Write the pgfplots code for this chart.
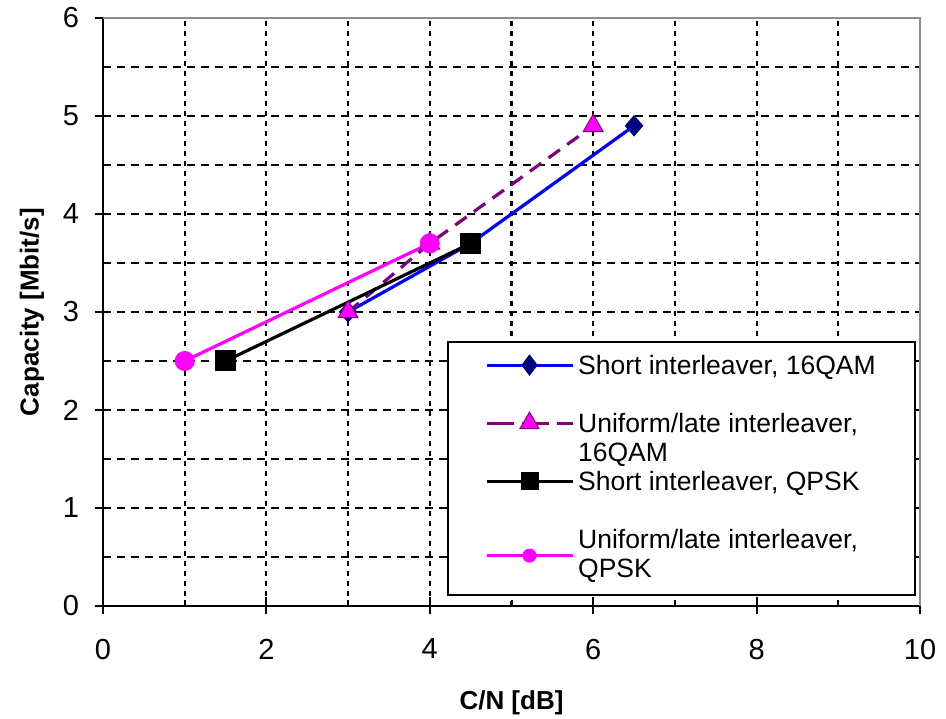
\documentclass[border=0pt]{standalone}
\usepackage{fontspec}
\setmainfont{Liberation Sans}
\usepackage{pgfplots}
\pgfplotsset{compat=1.18}
\definecolor{navyc}{HTML}{000080}
\definecolor{purplec}{HTML}{800080}
\definecolor{magc}{HTML}{FF00FF}
\definecolor{bluec}{HTML}{0000FF}
\definecolor{framegray}{HTML}{8C8C8C}
\begin{document}
\begin{tikzpicture}
\useasboundingbox (-103pt,-113pt) rectangle (843pt,606pt);
\begin{axis}[
  at={(0pt,0pt)}, anchor=south west,
  scale only axis, width=817pt, height=588pt,
  xmin=0, xmax=10, ymin=0, ymax=6,
  xtick={0,2,...,10}, ytick={0,1,...,6},
  minor xtick={1,3,5,7,9}, minor ytick={0.5,1.5,...,5.5},
  grid=both,
  major x grid style={black, line width=2.2pt, dash pattern=on 5pt off 5pt},
  minor x grid style={black, line width=2.2pt, dash pattern=on 5pt off 5pt},
  major y grid style={black, line width=2.2pt, dash pattern=on 8pt off 6pt},
  minor y grid style={black, line width=2.2pt, dash pattern=on 8pt off 6pt},
  axis x line*=bottom, axis y line*=left,
  axis line style={black, line width=2.4pt},
  tick align=center, major tick length=17pt, minor tick length=6pt,
  tick style={black, line width=2pt},
  minor x tick style={yshift=3pt},
  minor y tick style={xshift=3pt},
  clip=false,
  ticklabel style={font=\fontsize{29}{34}\selectfont},
  xticklabel style={yshift=-21pt},
  yticklabel style={xshift=-12pt},
  /pgf/number format/assume math mode=true,
  xlabel={C/N [dB]}, ylabel={Capacity [Mbit/s]},
  every axis x label/.style={at={(axis description cs:0.5,-0.165)}, anchor=center, font=\bfseries\fontsize{26}{30}\selectfont},
  every axis y label/.style={at={(axis description cs:-0.0869,0.5)}, rotate=90, anchor=center, font=\bfseries\fontsize{26}{30}\selectfont},
  legend style={at={(axis description cs:0.4211,0.0170)}, anchor=south west,
    draw=black, line width=1.8pt, inner xsep=37pt, inner ysep=8pt,
    row sep=28pt, column sep=2pt,
    font=\fontsize{26.5}{29}\selectfont,
    nodes={inner sep=2pt, text height=22pt, text depth=4pt},
    cells={anchor=west}},
  legend cell align=left,
  legend image code/.code={\draw[mark repeat=2,mark phase=2,#1] plot coordinates {(0pt,0pt)(43pt,0pt)(86pt,0pt)};},
]
\addplot[bluec, line width=3.2pt, mark=diamond*, mark size=10pt,
  mark options={solid, draw=navyc, fill=navyc, xscale=1.15, line width=1pt}, forget plot]
  coordinates {(3,3.0) (4.5,3.7) (6.5,4.9)};
\addplot[purplec, line width=3.2pt, dash pattern=on 14pt off 9pt, mark=triangle*, mark size=11.5pt,
  mark options={solid, draw=purplec, fill=magc, line width=1pt}, forget plot]
  coordinates {(3,3.0) (4,3.7) (6,4.9)};
\addplot[black, line width=3.2pt, mark=square*, mark size=10pt,
  mark options={solid, draw=black, fill=black, line width=1pt}, forget plot]
  coordinates {(1.5,2.5) (4.5,3.7)};
\addplot[magc, line width=3.2pt, mark=*, mark size=9.5pt,
  mark options={solid, draw=magc, fill=magc, line width=1pt}, forget plot]
  coordinates {(1,2.5) (4,3.7)};
\draw[framegray, line width=2.4pt] (rel axis cs:0,1) -- (rel axis cs:1,1) -- (rel axis cs:1,0);

\addlegendimage{bluec, line width=3.2pt, mark=diamond*, mark size=10pt, mark options={solid, draw=navyc, fill=navyc, line width=1pt}}
\addlegendentry{Short interleaver, 16QAM}
\addlegendimage{purplec, line width=3.2pt, dash pattern=on 27pt off 8pt, mark=triangle*, mark size=11pt, mark options={solid, draw=purplec, fill=magc, line width=1pt}}
\addlegendentry{\begin{tabular}[t]{@{}l@{}}Uniform/late interleaver,\\16QAM\end{tabular}}
\addlegendimage{black, line width=3.2pt, mark=square*, mark size=8.5pt, mark options={solid, draw=black, fill=black, line width=1pt}}
\addlegendentry{Short interleaver, QPSK}
\addlegendimage{magc, line width=3.2pt, mark=*, mark size=6.5pt, mark options={solid, draw=magc, fill=magc, line width=1pt}}
\addlegendentry[text depth=37pt]{\begin{tabular}[t]{@{}l@{}}Uniform/late interleaver,\\QPSK\end{tabular}}
\end{axis}
\end{tikzpicture}
\end{document}
